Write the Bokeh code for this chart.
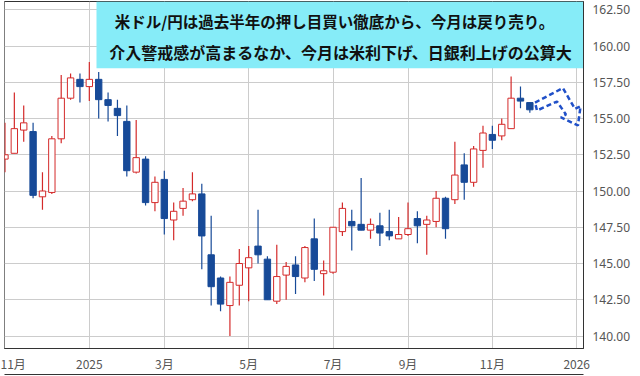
import pandas as pd
from bokeh.plotting import figure
from bokeh.models import (Range1d, FixedTicker, BoxAnnotation, Label, NumeralTickFormatter,
                          ColumnDataSource, LinearAxis)
from bokeh.embed import file_html
from bokeh.resources import INLINE

# ---- data: weekly USD/JPY candles (week starting Monday) ----
first_week = "2024-11-04"
opens = [152.2, 152.6, 154.2, 154.1, 149.6, 149.9, 153.6, 156.4, 157.7, 157.2,
         157.7, 156.3, 155.7, 154.8, 151.3, 152.2, 149.2, 150.8, 148.0, 148.8,
         149.4, 149.8, 145.6, 144.0, 142.1, 143.5, 144.7, 146.2, 145.3, 142.4,
         144.2, 144.9, 144.0, 146.7, 144.3, 144.4, 147.2, 147.9, 147.7, 147.3,
         147.6, 147.2, 146.7, 147.0, 148.1, 147.7, 147.9, 149.5, 149.4, 151.8,
         150.6, 152.8, 153.9, 153.8, 154.3, 156.4, 156.1]
highs = [154.7, 156.8, 155.9, 154.7, 151.3, 153.8, 158.0, 158.1, 158.1, 158.9,
         158.2, 156.8, 156.3, 155.9, 154.9, 152.4, 151.0, 151.4, 149.2, 150.2,
         151.3, 150.5, 148.3, 144.1, 144.1, 146.0, 146.2, 148.7, 145.5, 146.3,
         145.1, 145.5, 146.2, 148.1, 145.2, 147.5, 149.2, 148.7, 150.9, 148.1,
         148.5, 148.7, 148.2, 149.2, 148.6, 148.3, 150.0, 149.6, 153.4, 152.6,
         153.1, 154.5, 154.5, 155.0, 157.9, 157.2, 156.1]
lows = [151.3, 152.6, 153.4, 149.5, 148.7, 149.8, 153.3, 156.3, 156.1, 156.2,
        155.0, 154.8, 153.8, 151.0, 151.2, 149.0, 148.6, 147.0, 146.6, 148.3,
        149.3, 144.6, 142.1, 141.7, 140.0, 142.1, 142.4, 145.0, 142.5, 142.2,
        142.5, 142.9, 143.7, 143.8, 142.8, 144.3, 146.9, 145.9, 147.3, 146.7,
        146.2, 146.6, 146.7, 146.9, 146.4, 145.6, 147.5, 146.7, 149.1, 149.4,
        150.3, 151.6, 152.9, 153.5, 154.3, 155.7, 155.4]
closes = [152.5, 154.3, 154.7, 149.7, 150.0, 153.6, 156.4, 157.8, 157.2, 157.7,
          156.3, 155.9, 155.2, 151.4, 152.3, 149.2, 150.6, 148.1, 148.6, 149.3,
          149.8, 146.9, 143.4, 142.2, 143.7, 145.0, 145.4, 145.6, 142.5, 144.1,
          144.8, 144.1, 146.1, 144.6, 144.5, 147.5, 148.8, 147.6, 147.3, 147.7,
          147.1, 146.9, 147.0, 147.4, 147.6, 148.0, 149.5, 147.4, 151.1, 150.6,
          152.9, 154.0, 153.5, 154.6, 156.4, 156.2, 155.6]
tick_months = [1, 3, 5, 7, 9, 11]
price_ticks = [140.0, 142.5, 145.0, 147.5, 150.0, 152.5, 155.0, 157.5, 160.0, 162.5]
headline_1 = "米ドル/円は過去半年の押し目買い徹底から、今月は戻り売り。"
headline_2 = "介入警戒感が高まるなか、今月は米利下げ、日銀利上げの公算大"
# forecast arrow outline (annotation), x in week index, y in price
arrow_x = [56.55, 59.53, 60.81, 61.41, 61.13, 59.32, 59.85, 58.89, 56.76]
arrow_y = [156.10, 157.10, 155.66, 155.85, 154.52, 155.07, 155.28, 156.17, 155.55]

RED = "#d42a2a"
BLUE = "#174a98"
BORDER = "#333333"

# ---- layout geometry (canvas pixels) ----
W, H = 640, 376
FL, FR, FT, FB = 4, 583, 1, 348          # frame edges
PX_PER_WEEK, PX_PER_YEN = 9.373, 14.5
X0 = -0.05
Y0 = 139.138
X1 = X0 + (FR - FL) / PX_PER_WEEK
Y1 = Y0 + (FB - FT) / PX_PER_YEN


def cx(px):  # canvas x -> week index (for annotation placement)
    return X0 + (px - FL) / PX_PER_WEEK


def cy(py):  # canvas y -> price (for annotation placement)
    return Y0 + (FB - py) / PX_PER_YEN


n = len(opens)
idx = list(range(n))
up = [c >= o for o, c in zip(opens, closes)]
src = ColumnDataSource(dict(
    x=idx, o=opens, h=highs, l=lows, c=closes,
    top=[max(o, c) for o, c in zip(opens, closes)],
    bot=[min(o, c) for o, c in zip(opens, closes)],
    col=[RED if u else BLUE for u in up],
    fill=["white" if u else BLUE for u in up],
))

weeks = pd.date_range(first_week, periods=n + 8, freq="7D")
tick_idx, tick_lbl = [], {}
for i, d in enumerate(weeks):
    if d.day <= 7 and d.month in tick_months:
        tick_idx.append(i)
        tick_lbl[i] = str(d.year) if d.month == 1 else f"{d.month}月"

p = figure(width=W, height=H, output_backend="svg", toolbar_location=None,
           x_range=Range1d(X0, X1), y_range=Range1d(Y0, Y1),
           y_axis_location="right",
           min_border_left=FL, min_border_right=W - FR, min_border_top=FT, min_border_bottom=H - FB)
p.background_fill_color = "white"
p.border_fill_color = "white"
p.outline_line_color = BORDER
p.outline_line_width = 1

p.xaxis.ticker = FixedTicker(ticks=tick_idx)
p.xaxis.major_label_overrides = tick_lbl
p.yaxis.ticker = FixedTicker(ticks=price_ticks)
p.yaxis.formatter = NumeralTickFormatter(format="0.00")
for ax in (p.xaxis[0], p.yaxis[0]):
    ax.major_tick_out = 0
    ax.major_tick_in = 0
    ax.minor_tick_out = 0
    ax.minor_tick_in = 0
    ax.axis_line_color = BORDER
    ax.major_label_text_color = "#555555"
    ax.major_label_text_font_size = "12px"
p.xaxis.major_label_text_font = "Noto Sans CJK JP"
p.xaxis.major_label_standoff = 6
p.yaxis.major_label_text_font = "Noto Sans"
p.yaxis.major_label_standoff = 9
p.xgrid.ticker = FixedTicker(ticks=tick_idx)
p.xgrid.grid_line_color = "#cccccc"
p.ygrid.grid_line_color = "#cccccc"

# bottom border line of the chart box (an empty axis under the date axis)
edge = LinearAxis(ticker=FixedTicker(ticks=[]), major_tick_out=0, major_tick_in=0,
                  minor_tick_out=0, minor_tick_in=0, major_label_text_font_size="0px",
                  major_label_standoff=0, axis_line_color=BORDER)
p.add_layout(edge, "below")

# headline box
p.add_layout(BoxAnnotation(left=cx(96), bottom=cy(67.7), fill_color="#86ecf8", fill_alpha=1,
                           line_alpha=0, level="underlay"))
for txt, xx, yy, fs in ((headline_1, 334, 20, "15.5px"), (headline_2, 340, 51.5, "16px")):
    p.add_layout(Label(x=cx(xx), y=cy(yy), text=txt, text_align="center", text_baseline="middle",
                       text_font="Noto Sans CJK JP", text_font_style="bold",
                       text_font_size=fs, text_color="#111111"))

# candles
p.segment(x0="x", y0="h", x1="x", y1="l", source=src, line_color="col", line_width=1.2)
p.vbar(x="x", top="top", bottom="bot", width=0.68, source=src,
       fill_color="fill", line_color="col", line_width=1)

# forecast arrow
p.patch(arrow_x, arrow_y, fill_alpha=0, line_color="#2050c8", line_width=2.5, line_dash="5 3")

open("out.html", "w").write(file_html(p, INLINE))
